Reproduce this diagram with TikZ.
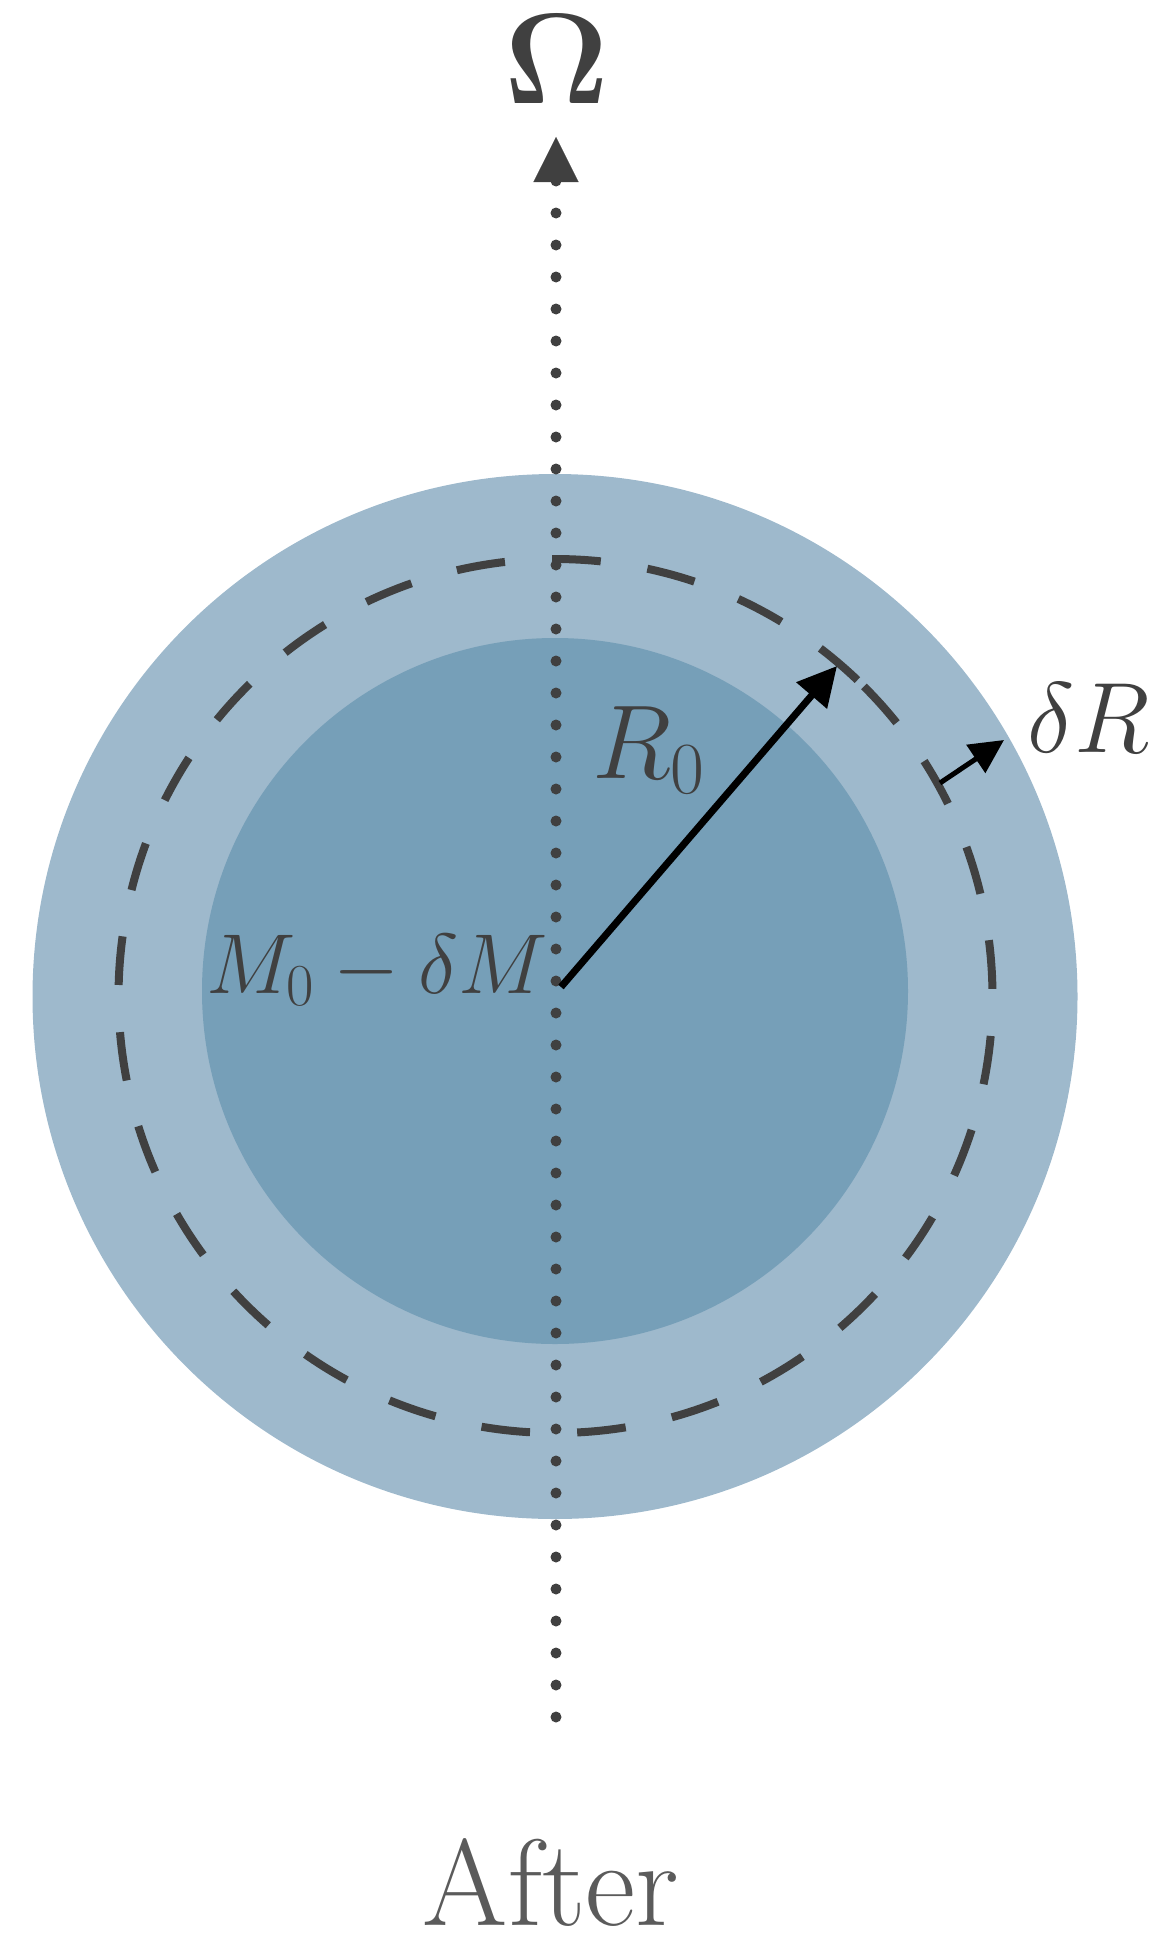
\RequirePackage{fix-cm}
\documentclass[tikz,border=0pt]{standalone}
\usetikzlibrary{arrows.meta}
\definecolor{outerblue}{RGB}{158,185,204}
\definecolor{innerblue}{RGB}{118,159,184}
\definecolor{ink}{RGB}{64,64,64}
\definecolor{aftergray}{RGB}{91,91,91}
\begin{document}
\begin{tikzpicture}[x=1pt,y=-1pt,
  lbl/.style={inner sep=0pt, text=ink},
  dots/.style={draw=ink, line width=11pt, line cap=round, dash pattern=on 0pt off 32pt},
  ring/.style={draw=ink, line width=8pt, dash pattern=on 48.8pt off 47.2pt},
  radarrow/.style={draw=black, line width=7pt, -{Triangle[length=39pt,width=39pt]}},
  smallarrow/.style={draw=black, line width=5pt, -{Triangle[length=34pt,width=33pt]}},
]
\useasboundingbox (0,0) rectangle (1154,1940);
\fill[outerblue] (555,996.5) circle[radius=522.5];
\fill[innerblue] (555,991) circle[radius=353];
\coordinate (C) at (555.5,996);
\draw[ring] (C) ++(-46.3:437) arc[start angle=-46.3, end angle=-406.3, radius=437];
\coordinate (axtop) at (556,181);
\coordinate (axbot) at (556,1719);
\coordinate (axbase) at (556,182);
\coordinate (axtip) at (556,137);
\draw[dots] (axtop) -- (axbot);
\draw[ink, fill=ink, line width=0.1pt, -{Triangle[length=45pt,width=45pt]}] (axbase) -- (axtip);
\coordinate (r0s) at (561,987);
\coordinate (r0e) at (837,666);
\draw[radarrow] (r0s) -- (r0e);
\coordinate (drs) at (940,783);
\coordinate (dre) at (1004,740);
\draw[smallarrow] (drs) -- (dre);
\node[lbl, font=\fontsize{129}{130}\selectfont] (omega) at (557,59) {$\mathbf{\Omega}$};
\node[lbl, anchor=base west, font=\fontsize{105}{110}\selectfont] (r0) at (592,778) {$R_0$};
\node[lbl, anchor=base west, font=\fontsize{100}{110}\selectfont] (dr) at (1027,752) {$\delta R$};
\node[lbl, anchor=base west, font=\fontsize{85}{95}\selectfont] (mass) at (206,993) {$M_0-\delta M$};
\node[lbl, text=aftergray, anchor=base, font=\fontsize{123}{130}\selectfont] (after) at (551,1925) {After};
\end{tikzpicture}
\end{document}
